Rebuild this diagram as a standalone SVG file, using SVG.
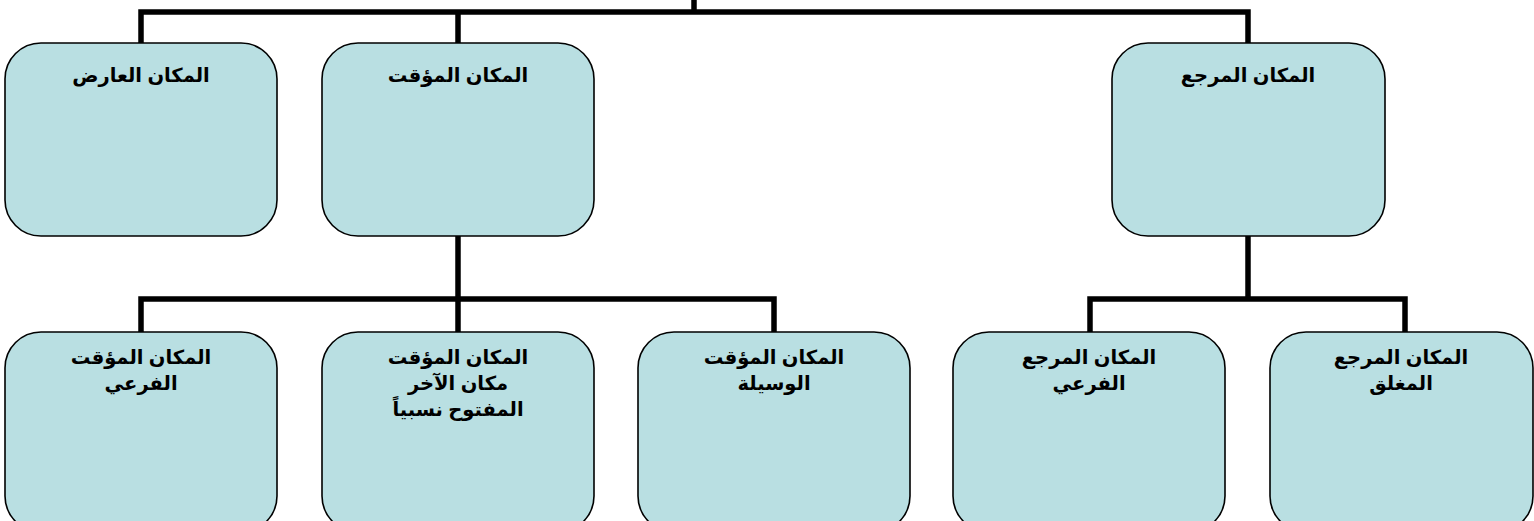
<svg xmlns="http://www.w3.org/2000/svg" width="1534" height="521" viewBox="0 0 1534 521">
<style>
.box{fill:#B9DFE2;stroke:#000;stroke-width:1.6}
.lbl{font-family:"Liberation Sans","DejaVu Sans",sans-serif;font-weight:bold;font-size:19.5px;fill:#000;text-anchor:middle;direction:rtl}
.con{fill:none;stroke:#000;stroke-width:5.5;stroke-linecap:butt;stroke-linejoin:miter}
</style>
<rect width="1534" height="521" fill="#fff"/>
<g id="connectors">
<path class="con" d="M694 0V12"/>
<path class="con" d="M141 43V12H1248V43"/>
<path class="con" d="M458 12V43"/>
<path class="con" d="M458 236V299"/>
<path class="con" d="M141 332V299H774V332"/>
<path class="con" d="M458 299V332"/>
<path class="con" d="M1248 236V299"/>
<path class="con" d="M1090 332V299H1405V332"/>
</g>
<g id="n-aared">
<rect class="box" x="5" y="43" width="272" height="193" rx="36" ry="36"/>
<text class="lbl" x="141" y="82">المكان العارض</text>
</g>
<g id="n-muaqqat">
<rect class="box" x="322" y="43" width="272" height="193" rx="36" ry="36"/>
<text class="lbl" x="458" y="82">المكان المؤقت</text>
</g>
<g id="n-marja">
<rect class="box" x="1112" y="43" width="273" height="193" rx="36" ry="36"/>
<text class="lbl" x="1248" y="82">المكان المرجع</text>
</g>
<g id="n-muaqqat-far">
<rect class="box" x="5" y="332" width="272" height="200" rx="36" ry="36"/>
<text class="lbl" x="141" y="364">المكان المؤقت</text>
<text class="lbl" x="141" y="390">الفرعي</text>
</g>
<g id="n-muaqqat-akhar">
<rect class="box" x="322" y="332" width="272" height="200" rx="36" ry="36"/>
<text class="lbl" x="458" y="364">المكان المؤقت</text>
<text class="lbl" x="458" y="390">مكان الآخر</text>
<text class="lbl" x="458" y="416">المفتوح نسبياً</text>
</g>
<g id="n-muaqqat-wasila">
<rect class="box" x="638" y="332" width="272" height="200" rx="36" ry="36"/>
<text class="lbl" x="774" y="364">المكان المؤقت</text>
<text class="lbl" x="774" y="390">الوسيلة</text>
</g>
<g id="n-marja-far">
<rect class="box" x="953" y="332" width="272" height="200" rx="36" ry="36"/>
<text class="lbl" x="1089" y="364">المكان المرجع</text>
<text class="lbl" x="1089" y="390">الفرعي</text>
</g>
<g id="n-marja-mughlaq">
<rect class="box" x="1270" y="332" width="263" height="200" rx="36" ry="36"/>
<text class="lbl" x="1401" y="364">المكان المرجع</text>
<text class="lbl" x="1401" y="390">المغلق</text>
</g>
</svg>
